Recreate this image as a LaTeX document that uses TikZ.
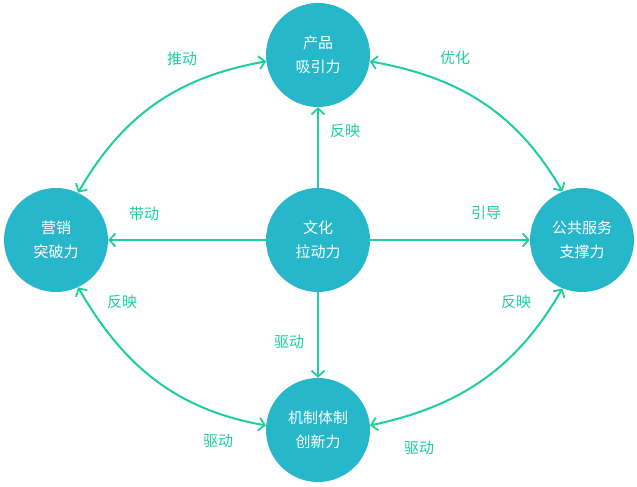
\documentclass[tikz,border=0pt]{standalone}
\usepackage{fontspec}
\setmainfont{Noto Sans CJK SC}
\usetikzlibrary{arrows.meta}
\definecolor{cfill}{RGB}{38,183,202}
\definecolor{cline}{RGB}{30,205,160}
\begin{document}
\begin{tikzpicture}[x=1pt,y=1pt,
  hub/.style={circle,fill=cfill,minimum size=104pt,inner sep=0pt,text=white,
    font=\fontsize{15}{24}\selectfont,align=center},
  barb/.tip={Straight Barb[length=6pt,width=13pt,line width=1.8pt]},
  conn/.style={draw=cline,line width=2pt,-barb},
  both/.style={draw=cline,line width=2pt,barb-barb},
  lab/.style={text=cline,font=\fontsize{15}{18}\selectfont,inner sep=0pt}]
\useasboundingbox (0,0) rectangle (637,487);
\node[hub] (top) at (318,432) {产品\\吸引力};
\node[hub] (left) at (56,247) {营销\\突破力};
\node[hub] (center) at (318,247) {文化\\拉动力};
\node[hub] (right) at (582,247) {公共服务\\支撑力};
\node[hub] (bottom) at (318,57) {机制体制\\创新力};

\draw[conn] (center) -- (top);
\draw[conn] (center) -- (left);
\draw[conn] (center) -- (right);
\draw[conn] (center) -- (bottom);

\draw[both] (left.65) to[out=60,in=190] (top.187);
\draw[both] (top.-7) to[out=-10,in=120] (right.112);
\draw[both] (left.-65) to[out=-60,in=170] (bottom.175);
\draw[both] (bottom.5) to[out=12,in=-120] (right.-112);

\node[lab] (l1) at (182,428) {推动};
\node[lab] (l2) at (455,429) {优化};
\node[lab] (l3) at (345,356) {反映};
\node[lab] (l4) at (144,273) {带动};
\node[lab] (l5) at (486,274) {引导};
\node[lab] (l6) at (122,185) {反映};
\node[lab] (l7) at (516,185) {反映};
\node[lab] (l8) at (289,145) {驱动};
\node[lab] (l9) at (218,46) {驱动};
\node[lab] (l10) at (419,39) {驱动};
\end{tikzpicture}
\end{document}
